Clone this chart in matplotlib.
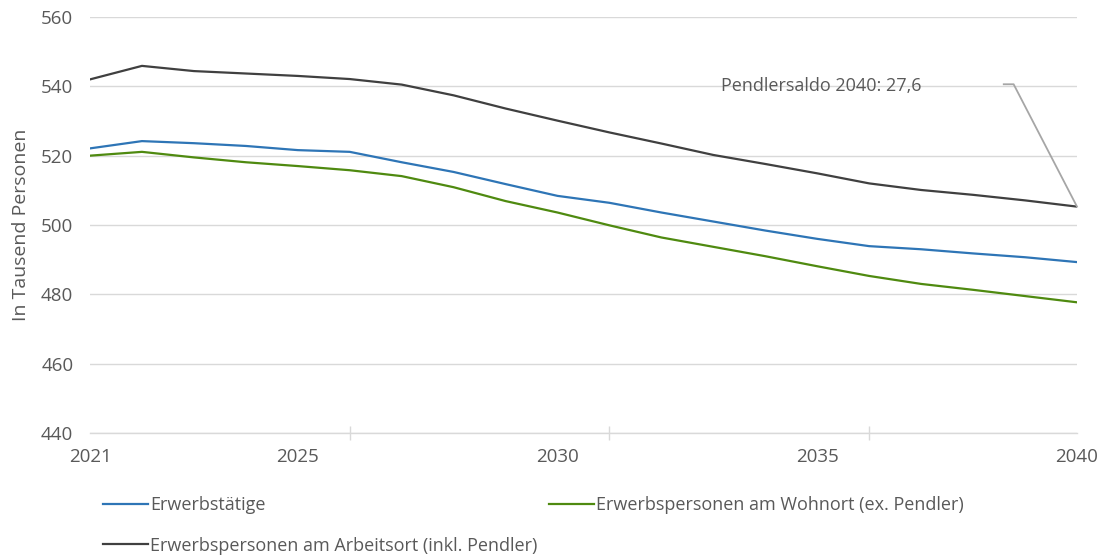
import numpy as np
import matplotlib
matplotlib.use("Agg")
import matplotlib.pyplot as plt

plt.rcParams['font.family'] = ['Open Sans', 'DejaVu Sans']

years = list(range(2021, 2041))
erwerbstaetige = [522.1, 524.2, 523.6, 522.8, 521.6, 521.1, 518.1, 515.3, 511.8, 508.4,
                  506.4, 503.6, 501.0, 498.4, 496.0, 493.9, 493.0, 491.8, 490.7, 489.3]
wohnort = [520.0, 521.1, 519.5, 518.1, 517.0, 515.8, 514.1, 510.9, 506.9, 503.6,
           499.9, 496.4, 493.7, 491.0, 488.1, 485.3, 483.0, 481.3, 479.5, 477.7]
arbeitsort = [542.0, 545.9, 544.4, 543.7, 543.0, 542.1, 540.5, 537.4, 533.6, 530.1,
              526.7, 523.5, 520.2, 517.6, 514.9, 512.0, 510.1, 508.7, 507.1, 505.3]

tick_years = [2021, 2025, 2030, 2035, 2040]
tickmark_years = [2021, 2026, 2031, 2036]

text_col = '#595959'
fs = 13.5

fig = plt.figure(figsize=(11.02, 5.56), dpi=100)
ax = fig.add_axes([90 / 1102, 1 - 433 / 556, (1077 - 90) / 1102, (433 - 17) / 556])

l1, = ax.plot(years, erwerbstaetige, color='#2e75b6', lw=1.6, label='Erwerbstätige')
l2, = ax.plot(years, wohnort, color='#4f8a10', lw=1.6,
              label='Erwerbspersonen am Wohnort (ex. Pendler)')
l3, = ax.plot(years, arbeitsort, color='#404040', lw=1.6,
              label='Erwerbspersonen am Arbeitsort (inkl. Pendler)')

ax.set_xlim(2021, 2040)
ax.set_ylim(440, 560)
ax.set_yticks(np.arange(440, 561, 20))
ax.grid(axis='y', color='#d9d9d9', lw=1)
ax.set_axisbelow(True)
for s in ['top', 'right', 'left']:
    ax.spines[s].set_visible(False)
ax.spines['bottom'].set_color('#d9d9d9')
ax.spines['bottom'].set_linewidth(1)

ax.set_xticks(tick_years)
ax.set_xticklabels([str(y) for y in tick_years])
ax.set_xticks(tickmark_years, minor=True)
ax.tick_params(axis='x', which='major', length=0, pad=11, labelsize=fs, labelcolor=text_col)
ax.tick_params(axis='x', which='minor', length=10, direction='inout', color='#d9d9d9', width=1)
ax.tick_params(axis='y', length=0, pad=12, labelsize=fs, labelcolor=text_col)

ax.set_ylabel('In Tausend Personen', fontsize=14, color=text_col, labelpad=8)

# Pendlersaldo annotation
saldo = arbeitsort[-1] - wohnort[-1]
ax.annotate('Pendlersaldo 2040: ' + f'{saldo:.1f}'.replace('.', ','),
            xy=(years[-1], arbeitsort[-1]), xycoords='data',
            xytext=(2033.15, 540.2), textcoords='data',
            fontsize=13, color=text_col, va='center', ha='left')
ax.plot([2038.59, 2038.78, years[-1]], [540.6, 540.6, arbeitsort[-1]],
        color='#a6a6a6', lw=1.3, clip_on=False)

fig.legend(handles=[l1, l3, l2], loc='upper left', bbox_to_anchor=(103 / 1102, 1 - 496 / 556),
           ncol=2, frameon=False, fontsize=13, handlelength=2.5, handletextpad=0.1,
           columnspacing=0.65, labelspacing=1.25, borderpad=0, borderaxespad=0,
           labelcolor=text_col)

fig.savefig('out.png', dpi=100)
